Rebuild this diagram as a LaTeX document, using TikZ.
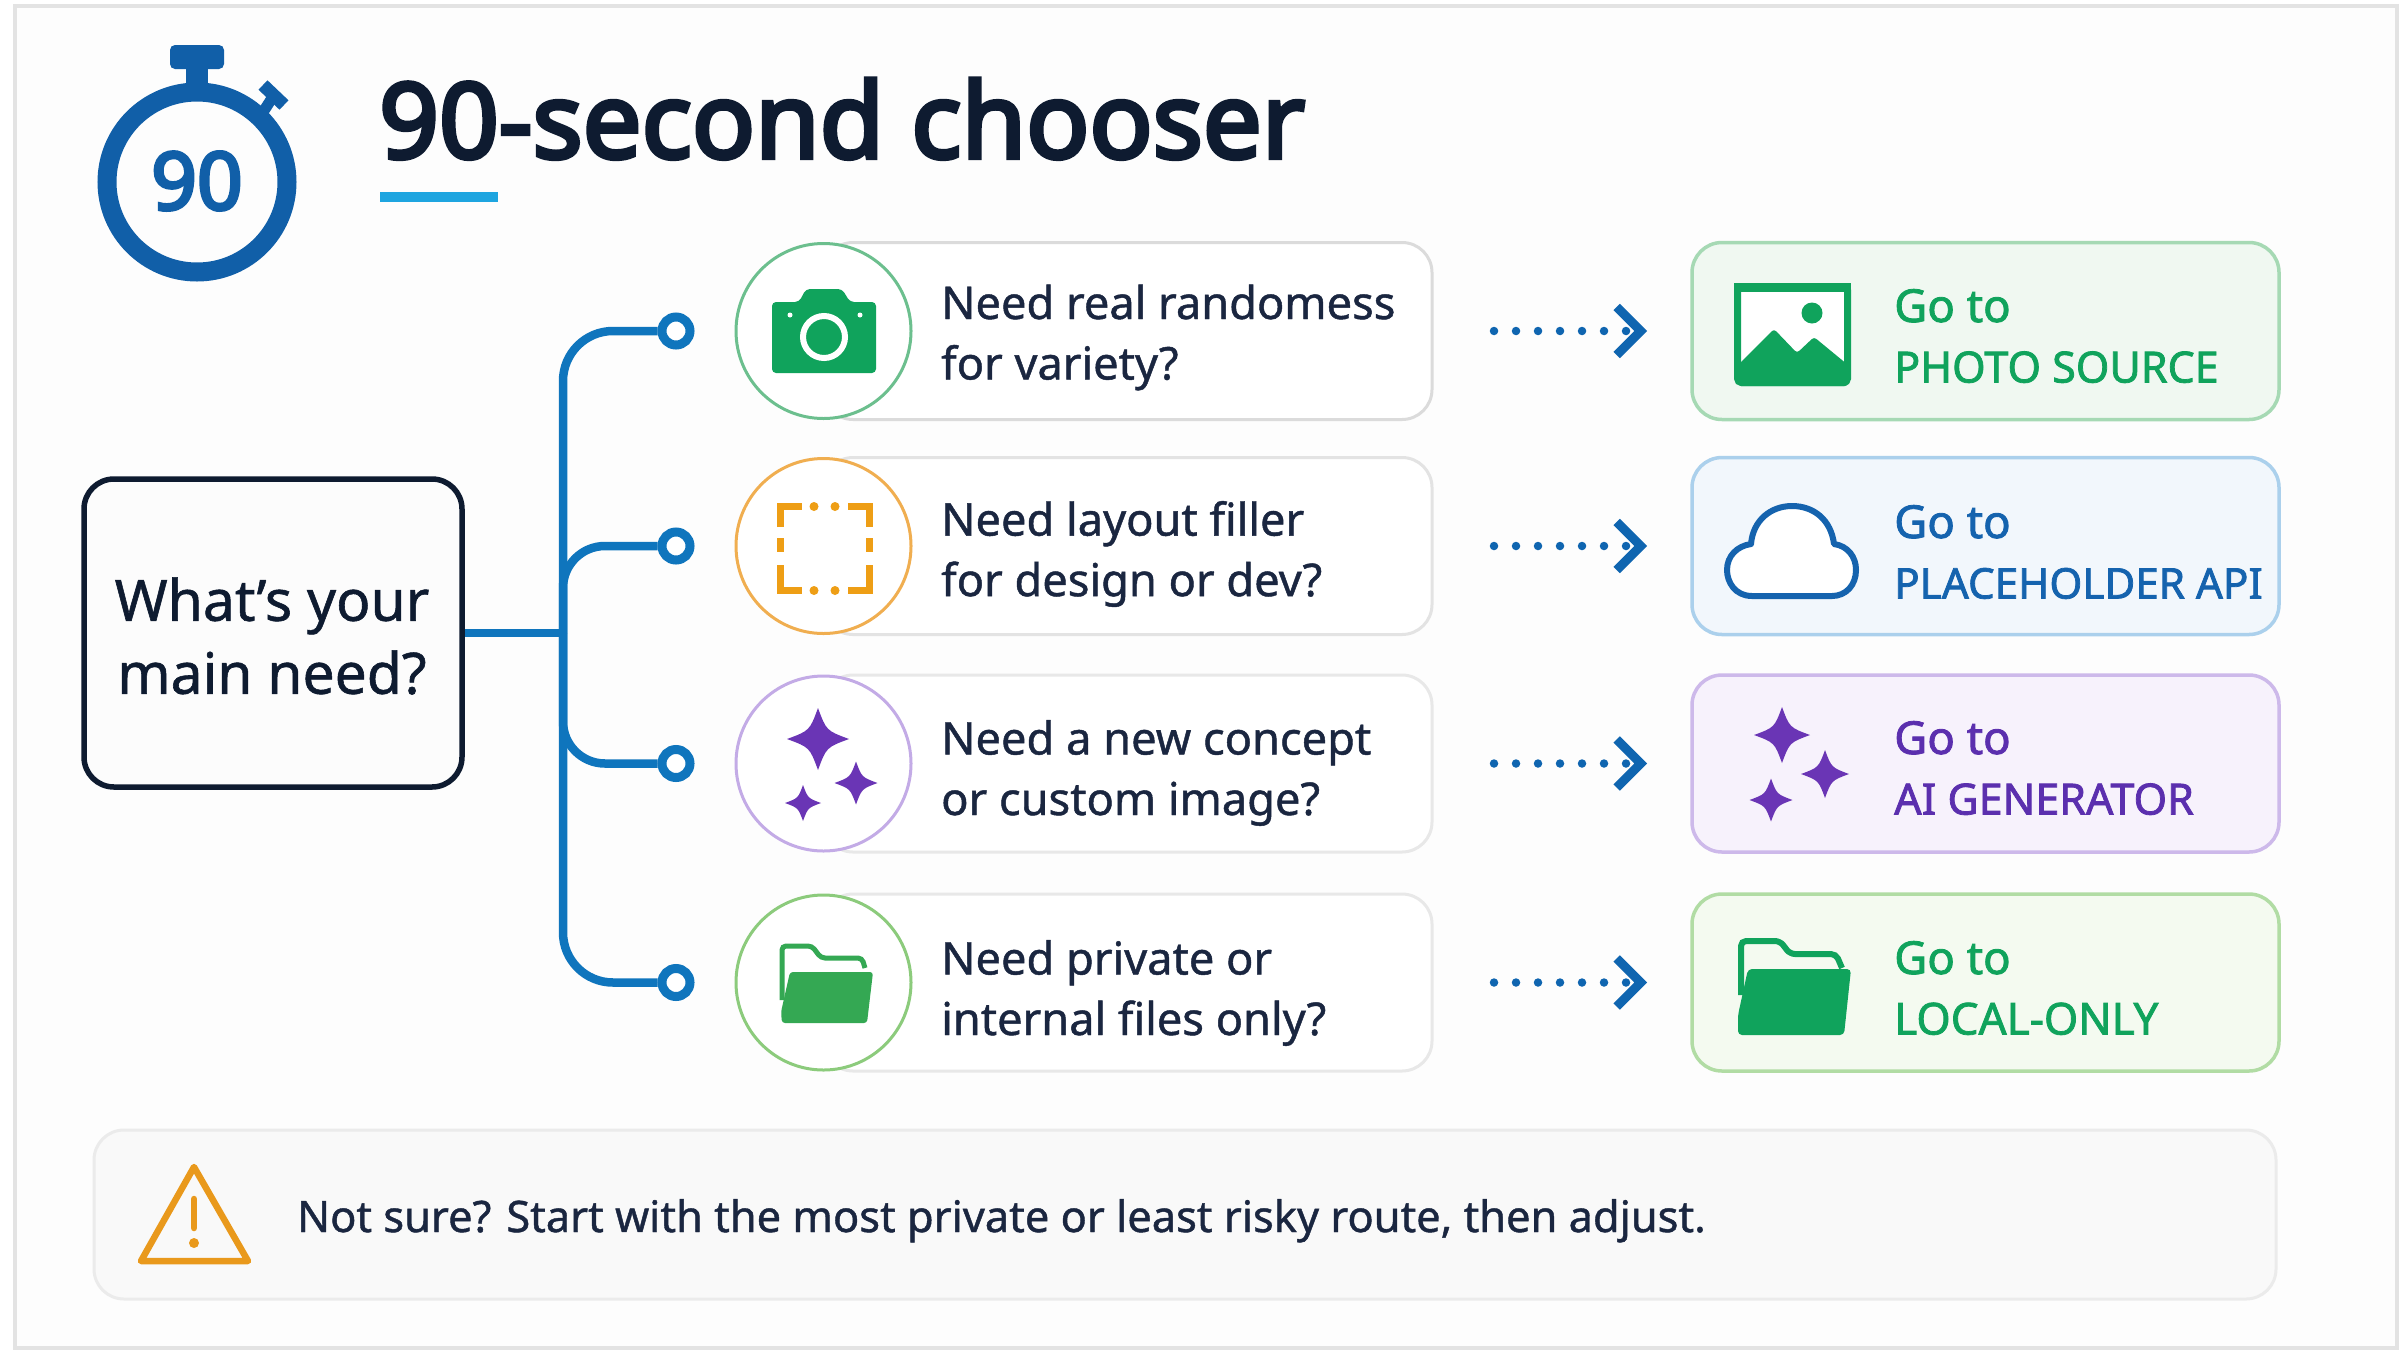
\documentclass[tikz,border=0pt]{standalone}
\usepackage{fontspec}
\setmainfont{Noto Sans}
\newfontfamily\heavyf{Noto Sans}[FakeBold=4]
\newfontfamily\medf{Noto Sans}[FakeBold=1]
\newfontfamily\semif{Noto Sans}[FakeBold=1.8]
\usetikzlibrary{arrows.meta,calc}
\definecolor{ink}{HTML}{0E1B30}
\definecolor{txt}{HTML}{1A2640}
\definecolor{watch}{HTML}{115FA8}
\definecolor{connc}{HTML}{0F75BD}
\definecolor{arr}{HTML}{0F65B0}
\definecolor{sky}{HTML}{1EA5E0}
\definecolor{gA}{HTML}{10A35C}
\definecolor{gB}{HTML}{34A853}
\definecolor{oA}{HTML}{EE9E15}
\definecolor{pA}{HTML}{6A35B5}
\definecolor{bA}{HTML}{1563AE}
\definecolor{pT}{HTML}{5B2FAE}
\definecolor{rimG}{HTML}{6CBF8E}
\definecolor{rimO}{HTML}{F0AE50}
\definecolor{rimP}{HTML}{C3ABE6}
\definecolor{rimL}{HTML}{8CCB7C}
\definecolor{dgS}{HTML}{A6D9B4}
\definecolor{dgF}{HTML}{F0F8F1}
\definecolor{dbS}{HTML}{ABD0EC}
\definecolor{dbF}{HTML}{F2F7FC}
\definecolor{dpS}{HTML}{CDB9EA}
\definecolor{dpF}{HTML}{F7F2FC}
\definecolor{dlS}{HTML}{B1DCA4}
\definecolor{dlF}{HTML}{F4FAF0}
\definecolor{warn}{HTML}{E9991C}
\newcommand{\spark}[4]{\fill[#4,shift={(#1,#2)},scale=#3] (0,-1) .. controls (.27,-.27) .. (1,0) .. controls (.27,.27) .. (0,1) .. controls (-.27,.27) .. (-1,0) .. controls (-.27,-.27) .. (0,-1) -- cycle;}
\newcommand{\qfont}{\medf\fontsize{45.2}{60.5}\selectfont}
\newcommand{\dfont}{\semif\fontsize{43}{60.5}\selectfont}
\newcommand{\goto}{{\fontsize{45.5}{60.5}\selectfont Go to}}
\tikzset{
  x=1pt,y=-1pt,
  card/.style={rectangle,rounded corners=30pt,draw=#1,line width=3pt,minimum width=609pt,minimum height=177pt,inner sep=0pt,outer sep=0pt,fill=white},
  badge/.style={circle,draw=#1,line width=3pt,fill=white,minimum size=175pt,inner sep=0pt},
  dest/.style n args={2}{rectangle,rounded corners=30pt,draw=#1,fill=#2,line width=3.5pt,minimum width=587pt,minimum height=177pt,inner sep=0pt,outer sep=0pt},
  qtext/.style={anchor=west,align=left,inner sep=0pt,text=txt,font=\qfont},
  dtext/.style={anchor=west,align=left,inner sep=0pt,text=#1,font=\dfont},
  connline/.style={draw=connc,line width=8.5pt},
  hub/.style={circle,draw=connc,line width=9pt,fill=white,minimum size=28pt,inner sep=0pt},
  darrow/.style={draw=arr,line width=8.5pt,dash pattern=on 0pt off 22pt,line cap=round,shorten <=62pt,shorten >=45pt,-{Straight Barb[length=24pt,width=48pt,line width=9pt]}},
}
\begin{document}
\begin{tikzpicture}
\useasboundingbox (0,0) rectangle (2400,1350);
\fill[white] (0,0) rectangle (2400,1350);
\draw[draw=black!11,fill=black!0.7,line width=4pt] (15,6) rectangle (2397,1348);
% stopwatch
\draw[watch,line width=19pt] (197,182) circle (90);
\fill[watch,rounded corners=5pt] (170,45) rectangle (224,69);
\fill[watch] (186,65) rectangle (208,92);
\draw[watch,line width=13pt] (263,85) -- (284,105);
\draw[watch,line width=11pt] (258,120) -- (274,95);
\node[inner sep=0pt,text=watch,font=\heavyf\fontsize{80}{80}\selectfont] (ninety) at (197,181) {90};
% title
\node[anchor=base west,inner sep=0pt,text=ink,font=\heavyf\fontsize{104.6}{105}\selectfont] (title) at (379,158) {90-second chooser};
\fill[sky] (380,192) rectangle (498,202);
% start
\node[rectangle,rounded corners=30pt,draw=ink,fill=black!1,line width=5.5pt,minimum width=378pt,minimum height=308pt,inner sep=0pt] (start) at (273,633) {};
\node[inner sep=0pt,align=center,font=\medf\fontsize{57}{73}\selectfont,text=ink] (starttext) at (272,636) {What’s your\\main need?};
% cards
\node[card=black!14] (q1) at (1127.5,331) {};
\node[card=black!11] (q2) at (1127.5,546) {};
\node[card=black!9] (q3) at (1127.5,763.5) {};
\node[card=black!9] (q4) at (1127.5,982.5) {};
\node[badge=rimG] (b1) at (823.5,331) {};
\node[badge=rimO] (b2) at (823.5,546) {};
\node[badge=rimP] (b3) at (823.5,763.5) {};
\node[badge=rimL] (b4) at (823.5,982.5) {};
\node[qtext] (qt1) at (941,337.5) {Need real randomess\\for variety?};
\node[qtext] (qt2) at (941,554) {Need layout filler\\for design or dev?};
\node[qtext] (qt3) at (941,773) {Need a new concept\\or custom image?};
\node[qtext] (qt4) at (941,993) {Need private or\\internal files only?};
% destinations
\node[dest={dgS}{dgF}] (r1) at (1985.5,331) {};
\node[dest={dbS}{dbF}] (r2) at (1985.5,546) {};
\node[dest={dpS}{dpF}] (r3) at (1985.5,763.5) {};
\node[dest={dlS}{dlF}] (r4) at (1985.5,982.5) {};
\node[dtext=gA] (rt1) at (1894,336) {\goto\\PHOTO SOURCE};
\node[dtext=bA] (rt2) at (1894,552) {\goto\\{\fontsize{42.2}{60.5}\selectfont PLACEHOLDER API}};
\node[dtext=pT] (rt3) at (1894,768) {\goto\\AI GENERATOR};
\node[dtext=gA] (rt4) at (1894,988) {\goto\\{\fontsize{44}{60.5}\selectfont LOCAL-ONLY}};
% hubs and connectors
\node[hub] (d1) at (676,331) {};
\node[hub] (d2) at (676,546) {};
\node[hub] (d3) at (676,763.5) {};
\node[hub] (d4) at (676,982.5) {};
\coordinate (tr) at (563,633);
\draw[connline] (start.east) -- (tr);
\draw[connline,rounded corners=50pt] (tr) |- (d1.west);
\draw[connline,rounded corners=50pt] (tr) |- (d4.west);
\draw[connline,rounded corners=42pt] (tr) |- (d2.west);
\draw[connline,rounded corners=42pt] (tr) |- (d3.west);
% dotted arrows
\draw[darrow] (q1.east) -- (r1.west);
\draw[darrow] (q2.east) -- (r2.west);
\draw[darrow] (q3.east) -- (r3.west);
\draw[darrow] (q4.east) -- (r4.west);
% camera icon
\fill[gA,rounded corners=4pt] (772,302) -- (799,302) -- (806,289) -- (842,289) -- (850,302) -- (876,302) -- (876,373) -- (772,373) -- cycle;
\draw[white,line width=6pt] (824,337) circle (21);
\fill[white] (790,315) circle (2.5) (860,315) circle (2.5);
% dashed square icon
\begin{scope}[oA,line width=7pt]
\draw (780.5,527) -- (780.5,506.5) -- (802,506.5);
\draw (848,506.5) -- (869.5,506.5) -- (869.5,527);
\draw (780.5,565) -- (780.5,590.5) -- (802,590.5);
\draw (848,590.5) -- (869.5,590.5) -- (869.5,565);
\draw (780.5,538) -- (780.5,552);
\draw (869.5,538) -- (869.5,552);
\fill (814,506.5) circle (4.5) (835,506.5) circle (4.5) (814,590.5) circle (4.5) (835,590.5) circle (4.5);
\end{scope}
% sparkles
\spark{818}{739}{31}{pA}
\spark{856}{783}{21.5}{pA}
\spark{803}{803}{18}{pA}
\spark{1782}{735}{28}{pA}
\spark{1825}{774}{24}{pA}
\spark{1771}{800}{21.5}{pA}
% small folder
\draw[gB,line width=5pt,rounded corners=4pt] (782,1000) -- (782,946) -- (812,946) -- (821,958) -- (862,958) -- (865,968);
\fill[gB,rounded corners=3pt] (790,972) -- (873,972) -- (867,1023) -- (782,1023) -- (781,1012) -- cycle;
% picture icon
\draw[gA,fill=white,line width=7pt,rounded corners=4pt] (1737.5,286.5) rectangle (1847.5,382.5);
\fill[gA] (1734,283) rectangle (1851,292);
\fill[gA] (1812,313) circle (10.5);
\fill[gA,rounded corners=3pt] (1738,365) -- (1774,329) -- (1797,353) -- (1814,337) -- (1848,365) -- (1848,386) -- (1738,386) -- cycle;
% cloud icon
\draw[bA,fill=white,line width=6pt,line join=round] (1752,596) .. controls (1735,596) and (1727,582) .. (1727,570) .. controls (1727,556) and (1737,546) .. (1751,544) .. controls (1753,520) and (1771,506) .. (1792,506) .. controls (1814,506) and (1831,520) .. (1834,544) .. controls (1848,546) and (1856,557) .. (1856,570) .. controls (1856,585) and (1846,596) .. (1832,596) -- cycle;
% big folder
\draw[gA,line width=6pt,rounded corners=5pt] (1741,995) -- (1741,941) -- (1780,941) -- (1790,954) -- (1836,954) -- (1842,968);
\fill[gA,rounded corners=4pt] (1748,969) -- (1851,969) -- (1844,1035) -- (1738,1035) -- (1738,1015) -- cycle;
% note banner
\node[rectangle,rounded corners=30pt,draw=black!8,fill=black!2.5,line width=3pt,minimum width=2182pt,minimum height=169pt,inner sep=0pt] (note) at (1185,1214.5) {};
\draw[warn,line width=6.5pt,line join=round] (194,1167) -- (248,1261) -- (141,1261) -- cycle;
\draw[warn,line width=6.5pt,line cap=round] (194,1199) -- (194,1228);
\fill[warn] (194,1243) circle (5);
\node[anchor=base west,inner sep=0pt,text=txt,font=\medf\fontsize{43.4}{50}\selectfont] (notetext) at (297,1232) {Not sure? Start with the most private or least risky route, then adjust.};
\end{tikzpicture}
\end{document}
